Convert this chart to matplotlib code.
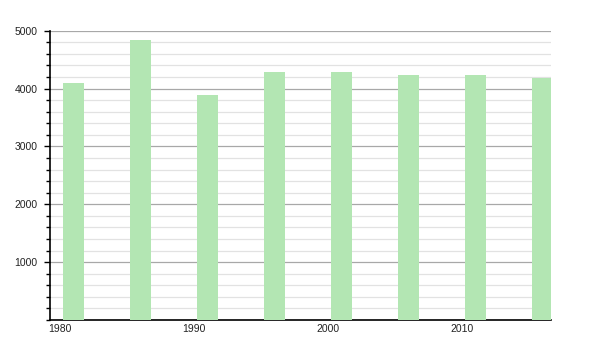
import matplotlib
matplotlib.use("Agg")
import matplotlib.pyplot as plt
from matplotlib.ticker import MultipleLocator

# census years and population
years = [1981, 1986, 1991, 1996, 2001, 2006, 2011, 2016]
population = [4090, 4840, 3885, 4285, 4285, 4235, 4235, 4185]

x_ticks = [1980, 1990, 2000, 2010]
y_ticks = [1000, 2000, 3000, 4000, 5000]

BAR_COLOR = "#b3e6b3"
MAJOR_GRID = "#a8a8a8"
MINOR_GRID = "#e2e2e2"

plt.rcParams["font.family"] = ["Liberation Sans", "DejaVu Sans"]

fig = plt.figure(figsize=(6, 3.5), dpi=100)
ax = fig.add_axes([50 / 600, 30 / 350, 501 / 600, 289.3 / 350])

ax.bar(years, population, width=1.57, color=BAR_COLOR, zorder=3)

ax.set_xlim(1979.25, 2016.65)
ax.set_ylim(0, 5000)

ax.set_xticks(x_ticks)
ax.set_xticklabels([str(t) for t in x_ticks])
ax.set_yticks(y_ticks)
ax.yaxis.set_minor_locator(MultipleLocator(200))

ax.grid(True, axis="y", which="major", color=MAJOR_GRID, linewidth=0.9, zorder=1)
ax.grid(True, axis="y", which="minor", color=MINOR_GRID, linewidth=0.9, zorder=1)

for side in ["top", "right"]:
    ax.spines[side].set_visible(False)
ax.spines["left"].set_color("black")
ax.spines["bottom"].set_color("black")
ax.spines["left"].set_linewidth(1.2)
ax.spines["bottom"].set_linewidth(1.2)

ax.tick_params(axis="x", length=0, labelsize=7.5, pad=3, labelcolor="#222222")
ax.tick_params(axis="y", which="major", length=4, width=1, labelsize=7.5, pad=5,
               labelcolor="#222222")
ax.tick_params(axis="y", which="minor", length=3, width=1)

fig.savefig("out.png", dpi=100)
